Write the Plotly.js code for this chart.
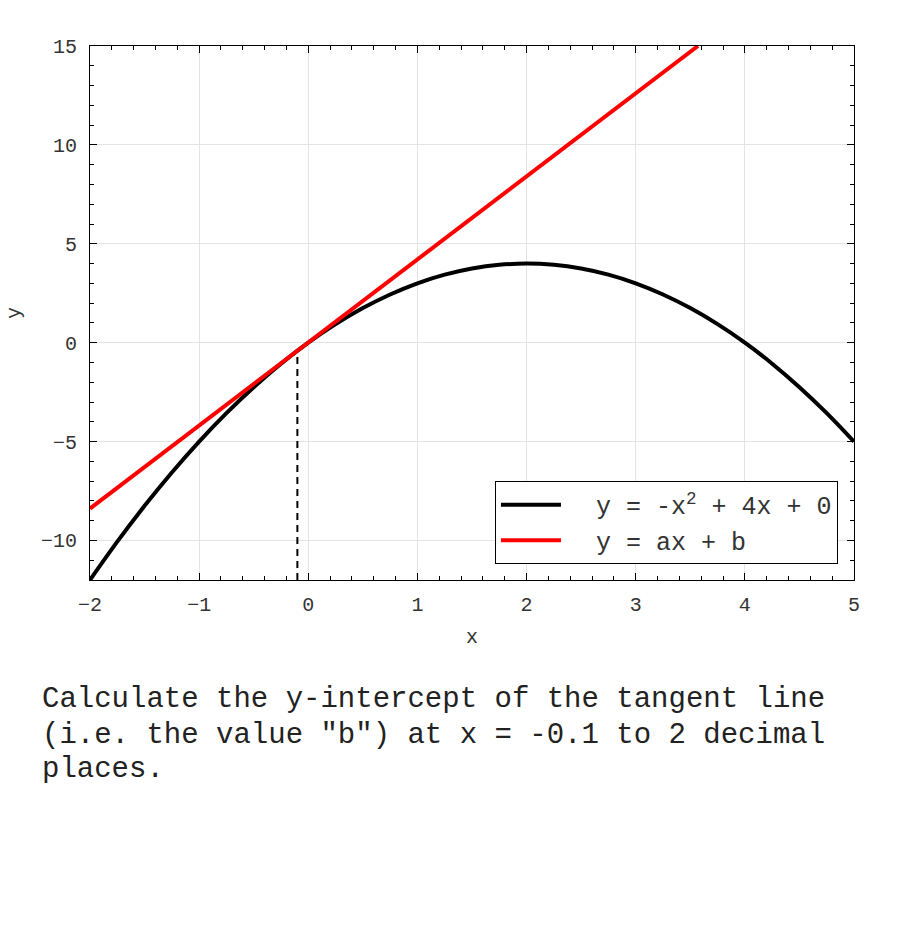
<!DOCTYPE html>
<html>
<head>
<meta charset="utf-8">
<script src="https://cdn.plot.ly/plotly-3.0.1.min.js"></script>
<style>html,body{margin:0;padding:0;background:#fff;}</style>
</head>
<body>
<div id="chart" style="width:900px;height:930px;"></div>
<script>
// Parabola y = -x^2 + 4x + 0 (values read at x steps of 0.25)
const curveX = [-2, -1.75, -1.5, -1.25, -1, -0.75, -0.5, -0.25, 0, 0.25, 0.5, 0.75, 1, 1.25, 1.5, 1.75, 2, 2.25, 2.5, 2.75, 3, 3.25, 3.5, 3.75, 4, 4.25, 4.5, 4.75, 5];
const curveY = [-12, -10.0625, -8.25, -6.5625, -5, -3.5625, -2.25, -1.0625, 0, 0.9375, 1.75, 2.4375, 3, 3.4375, 3.75, 3.9375, 4, 3.9375, 3.75, 3.4375, 3, 2.4375, 1.75, 0.9375, 0, -1.0625, -2.25, -3.5625, -5];
// Tangent line y = ax + b (endpoints)
const tangentX = [-2, 3.57];
const tangentY = [-8.39, 15.0];
// Dashed marker at the tangent point
const markerX = [-0.1, -0.1];
const markerY = [-12, -0.41];

const names = ['y = -x<sup>2</sup> + 4x + 0', 'y = ax + b'];
const xTicks = [-2, -1, 0, 1, 2, 3, 4, 5];
const yTicks = [-10, -5, 0, 5, 10, 15];
const questionLines = [
  'Calculate the y-intercept of the tangent line',
  '(i.e. the value "b") at x = -0.1 to 2 decimal',
  'places.'
];

const FONT = '"Courier New", "Liberation Mono", monospace';

const traces = [
  {x: markerX, y: markerY, mode: 'lines', line: {color: 'black', width: 2, dash: '7px,5px'}, showlegend: false, hoverinfo: 'skip'},
  {x: curveX, y: curveY, mode: 'lines', name: '  ' + names[0], line: {color: 'black', width: 4, shape: 'spline'}},
  {x: tangentX, y: tangentY, mode: 'lines', name: '  ' + names[1], line: {color: '#ff0000', width: 4}}
];

const axisCommon = {
  showline: true, linecolor: 'black', linewidth: 1, mirror: 'ticks',
  ticks: 'inside', ticklen: 7, tickwidth: 1, tickcolor: 'black',
  showgrid: true, gridcolor: '#e3e3e3', gridwidth: 1,
  zeroline: false,
  tickfont: {family: FONT, size: 20, color: '#333'},
  minor: {ticks: 'inside', ticklen: 4, tickcolor: 'black', showgrid: false}
};

const lineY = [-0.2247, -0.2903, -0.3558];

const layout = {
  width: 900, height: 930,
  margin: {l: 90, r: 46, t: 46, b: 350},
  paper_bgcolor: 'white', plot_bgcolor: 'white',
  font: {family: FONT, size: 20, color: '#333'},
  showlegend: true,
  xaxis: Object.assign({}, axisCommon, {
    range: [-2, 5], tickvals: xTicks, ticktext: xTicks.map(v => v < 0 ? '\u2212' + Math.abs(v) : String(v)),
    minor: Object.assign({}, axisCommon.minor, {dtick: 0.2}),
    ticklabelstandoff: 6,
    title: {text: 'x', font: {family: FONT, size: 20, color: '#333'}, standoff: 12}
  }),
  yaxis: Object.assign({}, axisCommon, {
    range: [-12, 15], tickvals: yTicks, ticktext: yTicks.map(v => v < 0 ? '\u2212' + Math.abs(v) : String(v)),
    minor: Object.assign({}, axisCommon.minor, {dtick: 1, tick0: 0}),
    ticklabelstandoff: 8,
    title: {text: 'y', font: {family: FONT, size: 20, color: '#333'}, standoff: 14}
  }),
  legend: {
    x: 0.979, y: 0.03, xanchor: 'right', yanchor: 'bottom',
    bgcolor: 'white', bordercolor: 'black', borderwidth: 1,
    font: {family: FONT, size: 25, color: '#333'},
    itemwidth: 60, tracegroupgap: 0
  },
  annotations: questionLines.map((t, i) => ({
    xref: 'paper', yref: 'paper', x: -0.0654, y: lineY[i], xanchor: 'left', yanchor: 'middle',
    align: 'left', showarrow: false, text: t,
    font: {family: FONT, size: 29, color: '#222'}
  }))
};

Plotly.newPlot('chart', traces, layout, {displayModeBar: false, staticPlot: true});
</script>
</body>
</html>
